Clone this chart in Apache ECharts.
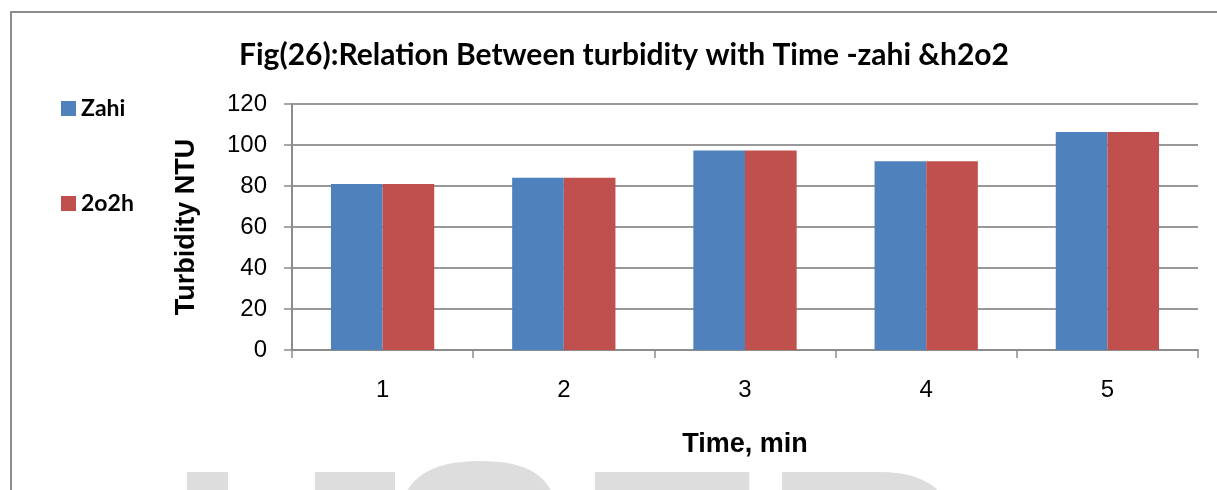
<!DOCTYPE html>
<html>
<head>
<meta charset="utf-8">
<style>
  html, body { margin: 0; padding: 0; background: #ffffff; }
  #chart { width: 1217px; height: 490px; }
</style>
<script src="https://cdn.jsdelivr.net/npm/echarts@6/dist/echarts.min.js"></script>
</head>
<body>
<div id="chart"></div>
<script>
// Turbidity readings (NTU) at each time step for the two treatments
const timeLabels = ['1', '2', '3', '4', '5'];
const zahiValues = [81, 84, 97.3, 92.1, 106.4];
const h2o2Values = [81, 84, 97.3, 92.1, 106.4];
const seriesNames = ['Zahi', '2o2h'];
const yTicks = { min: 0, max: 120, interval: 20 };

const chart = echarts.init(document.getElementById('chart'), null, { renderer: 'canvas' });

// Large pale publisher mark along the lower edge, one letter at a time
const markLetters = [
  { ch: 'I', x: 168, y: 447 },
  { ch: 'J', x: 256, y: 447 },
  { ch: 'S', x: 384, y: 439 },
  { ch: 'E', x: 576, y: 447 },
  { ch: 'R', x: 763, y: 447 }
];
const markGraphics = markLetters.map(function (m) {
  return {
    type: 'text',
    left: m.x,
    top: m.y,
    z: -10,
    silent: true,
    style: {
      text: m.ch,
      font: 'bold 285px "Liberation Sans", Arial, sans-serif',
      fill: '#dddddd'
    }
  };
});

const axisGrey = '#8c8c8c';

chart.setOption({
  animation: false,
  backgroundColor: '#ffffff',
  color: ['#4F81BD', '#C0504D'],
  title: {
    text: 'Fig(26):Relation Between turbidity with Time -zahi &h2o2',
    left: 619,
    textAlign: 'center',
    top: 35,
    textStyle: {
      fontFamily: 'Lato, "Open Sans", sans-serif',
      fontWeight: 'bold',
      fontSize: 30,
      color: '#000000'
    }
  },
  legend: {
    orient: 'vertical',
    left: 56,
    top: 92,
    itemWidth: 15,
    itemHeight: 15,
    itemGap: 72,
    icon: 'rect',
    data: seriesNames,
    textStyle: {
      fontFamily: 'Lato, "Open Sans", sans-serif',
      fontWeight: 'bold',
      fontSize: 23,
      lineHeight: 15,
      color: '#000000'
    }
  },
  grid: {
    left: 292,
    right: 19,
    top: 104,
    bottom: 140,
    containLabel: false
  },
  xAxis: {
    type: 'category',
    data: timeLabels,
    name: 'Time, min',
    nameLocation: 'middle',
    nameGap: 81,
    nameTextStyle: {
      fontFamily: '"Liberation Sans", Arial, sans-serif',
      fontWeight: 'bold',
      fontSize: 27,
      color: '#000000'
    },
    axisLine: { show: true, lineStyle: { color: axisGrey, width: 2 } },
    axisTick: { show: true, length: 8, alignWithLabel: false, lineStyle: { color: axisGrey, width: 1.5 } },
    axisLabel: {
      margin: 28,
      fontFamily: '"Liberation Sans", Arial, sans-serif',
      fontSize: 24,
      color: '#000000'
    },
    splitLine: { show: false }
  },
  yAxis: {
    type: 'value',
    min: yTicks.min,
    max: yTicks.max,
    interval: yTicks.interval,
    name: 'Turbidity NTU',
    nameLocation: 'middle',
    nameRotate: 90,
    nameGap: 92,
    nameTextStyle: {
      fontFamily: '"Liberation Sans", Arial, sans-serif',
      fontWeight: 'bold',
      fontSize: 27,
      color: '#000000'
    },
    axisLine: { show: true, lineStyle: { color: axisGrey, width: 2 } },
    axisTick: { show: true, inside: false, length: 8, lineStyle: { color: axisGrey, width: 1.5 } },
    axisLabel: {
      margin: 25,
      fontFamily: '"Liberation Sans", Arial, sans-serif',
      fontSize: 24,
      color: '#000000'
    },
    splitLine: { show: true, lineStyle: { color: '#999999', width: 2 } }
  },
  series: [
    {
      name: seriesNames[0],
      type: 'bar',
      data: zahiValues,
      barGap: '0%',
      barCategoryGap: '43%',
      itemStyle: { color: '#4F81BD' }
    },
    {
      name: seriesNames[1],
      type: 'bar',
      data: h2o2Values,
      barGap: '0%',
      barCategoryGap: '43%',
      itemStyle: { color: '#C0504D' }
    }
  ],
  graphic: markGraphics.concat([
    {
      // chart frame: left and top edges
      type: 'polyline',
      z: 10,
      silent: true,
      shape: { points: [[11, 490], [11, 12], [1217, 12]] },
      style: { stroke: '#8c8c8c', lineWidth: 2, fill: null }
    }
  ])
});
</script>
</body>
</html>
